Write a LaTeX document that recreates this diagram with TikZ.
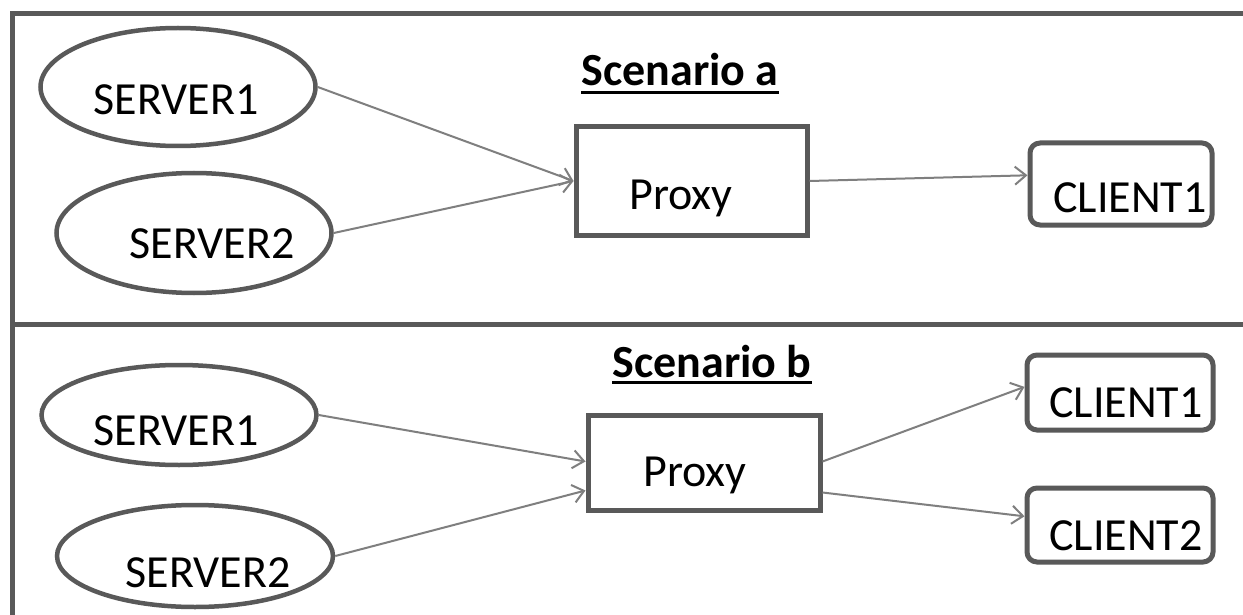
\documentclass[tikz,border=0pt]{standalone}
\usepackage{fontspec}
\setmainfont{Carlito}
\usetikzlibrary{shapes.geometric,arrows.meta,calc}
\definecolor{edge}{HTML}{595959}
\definecolor{wire}{HTML}{7F7F7F}
\begin{document}
\begin{tikzpicture}[x=1pt,y=-1pt,
  frameline/.style={draw=edge,line width=5pt},
  server/.style={ellipse,draw=edge,line width=4.5pt,inner sep=0pt,minimum width=275pt,minimum height=118pt},
  proxybox/.style={rectangle,draw=edge,line width=5pt,inner sep=0pt},
  clientbox/.style={rectangle,rounded corners=10pt,draw=edge,line width=5pt,inner sep=0pt},
  txt/.style={anchor=base,inner sep=0pt,font=\fontsize{46}{50}\selectfont},
  title/.style={anchor=base,inner sep=0pt,font=\fontsize{46}{50}\selectfont\bfseries},
  uline/.style={draw=black,line width=3pt},
  link/.style={draw=wire,line width=2pt,-{Straight Barb[length=11pt,width=18pt,line width=2pt]}}]
\useasboundingbox (0,0) rectangle (1243,615);
\fill[white] (0,0) rectangle (1243,615);

% panel frame
\coordinate (tl) at (12,14);
\coordinate (tr) at (1250,14);
\coordinate (bl) at (12,620);
\coordinate (ml) at (12,324);
\coordinate (mr) at (1250,324);
\draw[frameline] (tr) -- (tl) -- (bl);
\draw[frameline] (ml) -- (mr);

% ---- scenario a ----
\node[server] (s1a) at (178,87) {};
\node[server,minimum height=120pt] (s2a) at (194,233) {};
\node[proxybox,minimum width=231pt,minimum height=108pt] (pa) at (691.5,181) {};
\node[clientbox,minimum width=182pt,minimum height=82pt] (c1a) at (1121,184) {};

\node[txt] (s1at) at (176,115) {SERVER1};
\node[txt] (s2at) at (212,258) {SERVER2};
\node[txt] (pat) at (681,210) {Proxy};
\node[txt] (c1at) at (1130,212) {CLIENT1};

\node[title] (ta) at (680,86) {Scenario a};
\draw[uline] ($(ta.base west)+(0,7)$) -- ($(ta.base east)+(0,7)$);

\draw[link] (s1a.east) -- ($(pa.north west)!0.5!(pa.south west)$);
\draw[link] (s2a.east) -- ($(pa.north west)!0.5!(pa.south west)$);
\draw[link] (pa.east) -- ($(c1a.north west)!0.4!(c1a.south west)$);

% ---- scenario b ----
\node[server,minimum height=100pt] (s1b) at (179,415) {};
\node[server,minimum width=276pt,minimum height=102pt] (s2b) at (195,556) {};
\node[proxybox,minimum width=232pt,minimum height=95pt] (pb) at (704,462.5) {};
\node[clientbox,minimum width=186pt,minimum height=75pt] (c1b) at (1120,392.5) {};
\node[clientbox,minimum width=186pt,minimum height=74pt] (c2b) at (1120,525) {};

\node[txt] (s1bt) at (176,445) {SERVER1};
\node[txt] (s2bt) at (208,587) {SERVER2};
\node[txt] (pbt) at (695,486) {Proxy};
\node[txt] (c1bt) at (1126,417) {CLIENT1};
\node[txt] (c2bt) at (1126,550) {CLIENT2};

\node[title] (tb) at (712,377) {Scenario b};
\draw[uline] ($(tb.base west)+(0,5)$) -- ($(tb.base east)+(0,5)$);

\draw[link] (s1b.east) -- ($(pb.north west)!0.49!(pb.south west)$);
\draw[link] (s2b.east) -- ($(pb.north west)!0.78!(pb.south west)$);
\draw[link] ($(pb.north east)!0.49!(pb.south east)$) -- ($(c1b.north west)!0.43!(c1b.south west)$);
\draw[link] ($(pb.north east)!0.8!(pb.south east)$) -- ($(c2b.north west)!0.39!(c2b.south west)$);
\end{tikzpicture}
\end{document}
